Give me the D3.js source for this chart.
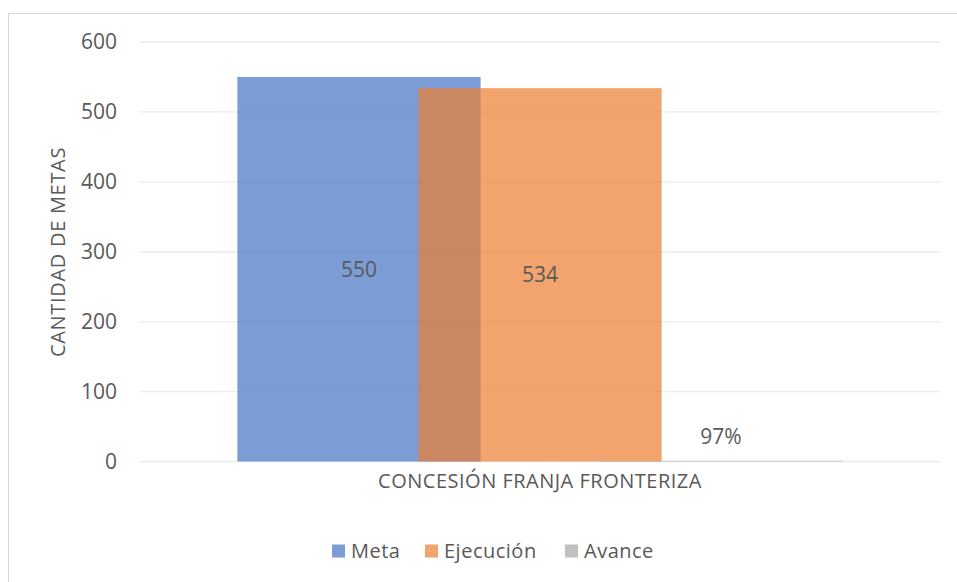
<!DOCTYPE html>
<html>
<head>
<meta charset="utf-8">
<script src="https://cdn.jsdelivr.net/npm/d3@7"></script>
<style>
  body { margin: 0; background: #fff; }
  svg text { font-family: "Open Sans", sans-serif; fill: #595959; }
</style>
</head>
<body>
<svg width="957" height="582"></svg>
<script>
var categories = ["CONCESIÓN FRANJA FRONTERIZA"];
var seriesNames = ["Meta", "Ejecución", "Avance"];
var seriesValues = [550, 534, 0.97];
var valueLabels = ["550", "534", "97%"];
var seriesColors = ["#4472C4", "#ED7D31", "#A5A5A5"];
var yTicks = [0, 100, 200, 300, 400, 500, 600];
var yTitle = "CANTIDAD DE METAS";

var svg = d3.select("svg");

// chart border
svg.append("rect")
  .attr("x", 8.5).attr("y", 13.5)
  .attr("width", 960).attr("height", 580)
  .attr("fill", "none").attr("stroke", "#d9d9d9");

var plotLeft = 140, plotRight = 940, plotTop = 42, plotBottom = 461.5;

var x = d3.scaleBand().domain(categories).range([plotLeft, plotRight]);
var y = d3.scaleLinear().domain([0, 600]).range([plotBottom, plotTop]);

// series offset from the middle of the category band
var offset = d3.scalePoint().domain(seriesNames).range([-181, 181]);
var barWidth = x.bandwidth() * 0.304;

// gridlines
svg.append("g").selectAll("line")
  .data(yTicks)
  .join("line")
  .attr("x1", plotLeft).attr("x2", plotRight)
  .attr("y1", function(d) { return y(d); })
  .attr("y2", function(d) { return y(d); })
  .attr("stroke", "#ececec").attr("stroke-width", 1.3);

// y tick labels
svg.append("g").selectAll("text")
  .data(yTicks)
  .join("text")
  .attr("x", 117)
  .attr("y", function(d) { return y(d); })
  .attr("dy", "0.35em")
  .attr("text-anchor", "end")
  .attr("font-size", 21)
  .text(function(d) { return d; });

// bars
var cx = x(categories[0]) + x.bandwidth() / 2;
svg.append("g").selectAll("rect")
  .data(seriesNames)
  .join("rect")
  .attr("x", function(d) { return cx + offset(d) - barWidth / 2; })
  .attr("y", function(d, i) { return y(seriesValues[i]); })
  .attr("width", barWidth)
  .attr("height", function(d, i) { return y(0) - y(seriesValues[i]); })
  .attr("fill", function(d, i) { return seriesColors[i]; })
  .attr("fill-opacity", 0.7);

// value labels
svg.append("g").selectAll("text")
  .data(seriesNames)
  .join("text")
  .attr("x", function(d) { return cx + offset(d); })
  .attr("y", function(d, i) {
    var v = seriesValues[i];
    if (v < 20) return y(v) - 24;
    return (y(v) + y(0)) / 2;
  })
  .attr("dy", "0.35em")
  .attr("text-anchor", "middle")
  .attr("font-size", 21)
  .text(function(d, i) { return valueLabels[i]; });

// category label
svg.append("text")
  .attr("x", cx).attr("y", 481)
  .attr("dy", "0.35em")
  .attr("text-anchor", "middle")
  .attr("font-size", 20)
  .attr("letter-spacing", 0.5)
  .text(categories[0]);

// y axis title
svg.append("text")
  .attr("transform", "translate(58,252) rotate(-90)")
  .attr("dy", "0.35em")
  .attr("text-anchor", "middle")
  .attr("font-size", 20)
  .attr("letter-spacing", 0.7)
  .text(yTitle);

// legend
var legendX = [332, 425, 565];
var legend = svg.append("g").selectAll("g")
  .data(seriesNames)
  .join("g")
  .attr("transform", function(d, i) { return "translate(" + legendX[i] + ",551)"; });
legend.append("rect")
  .attr("x", 0).attr("y", -6.5)
  .attr("width", 13).attr("height", 13)
  .attr("fill", function(d, i) { return seriesColors[i]; })
  .attr("fill-opacity", 0.7);
legend.append("text")
  .attr("x", 19).attr("dy", "0.35em")
  .attr("font-size", 20)
  .attr("letter-spacing", 0.5)
  .text(function(d) { return d; });
</script>
</body>
</html>
